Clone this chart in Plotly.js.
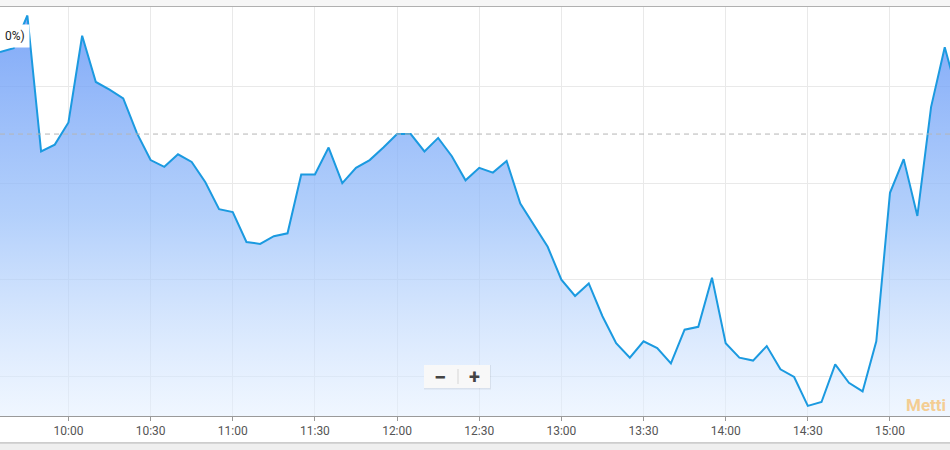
<!DOCTYPE html>
<html>
<head>
<meta charset="utf-8">
<script src="https://cdn.plot.ly/plotly-3.0.1.min.js"></script>
<style>
html,body{margin:0;padding:0;background:#fff;}
#chart{width:950px;height:450px;}
</style>
</head>
<body>
<div id="chart"></div>
<script>
// --- data ---
const day = '2024-03-15';
const times = [
  '09:35','09:40','09:45','09:50','09:55',
  '10:00','10:05','10:10','10:15','10:20','10:25','10:30','10:35','10:40','10:45','10:50','10:55',
  '11:00','11:05','11:10','11:15','11:20','11:25','11:30','11:35','11:40','11:45','11:50','11:55',
  '12:00','12:05','12:10','12:15','12:20','12:25','12:30','12:35','12:40','12:45','12:50','12:55',
  '13:00','13:05','13:10','13:15','13:20','13:25','13:30','13:35','13:40','13:45','13:50','13:55',
  '14:00','14:05','14:10','14:15','14:20','14:25','14:30','14:35','14:40','14:45','14:50','14:55',
  '15:00','15:05','15:10','15:15','15:20','15:25'
];
const prices = [
  12.736,12.740,12.774,12.633,12.640,
  12.663,12.753,12.705,12.697,12.688,12.652,12.624,12.617,12.630,12.622,12.601,12.573,
  12.570,12.539,12.537,12.545,12.548,12.609,12.609,12.637,12.600,12.616,12.624,12.637,
  12.651,12.651,12.633,12.647,12.628,12.603,12.616,12.611,12.623,12.579,12.556,12.534,
  12.500,12.483,12.496,12.462,12.434,12.419,12.436,12.429,12.413,12.448,12.451,12.502,
  12.434,12.419,12.416,12.431,12.407,12.399,12.369,12.373,12.412,12.393,12.384,12.436,
  12.590,12.625,12.566,12.679,12.741,12.689
];
const prevClose = 12.651;
const refLabel = '0%)';
const watermark = 'Metti';

const xs = times.map(t => day + ' ' + t + ':00');
const yMin = 12.3585, yMax = 12.7828;
const dataMax = Math.max.apply(null, prices);

const trace = {
  x: xs, y: prices,
  type: 'scatter', mode: 'lines',
  line: {color: '#1b9ae0', width: 2},
  fill: 'tozeroy',
  fillgradient: {
    type: 'vertical',
    start: yMin, stop: dataMax,
    colorscale: [[0, 'rgba(228,240,255,0.55)'], [0.5, 'rgba(150,190,250,0.72)'], [1, 'rgba(100,150,246,0.82)']]
  },
  hoverinfo: 'skip'
};

// pixel helpers for decorations (paper coords)
const px = v => v / 950;
const py = v => (416 - v) / 409;

const layout = {
  width: 950, height: 450,
  margin: {l: 0, r: 0, t: 7, b: 34},
  paper_bgcolor: '#ffffff', plot_bgcolor: '#ffffff',
  showlegend: false,
  font: {family: 'Roboto, "Open Sans", sans-serif', color: '#555'},
  xaxis: {
    type: 'date',
    range: [day + ' 09:35:00', day + ' 15:21:55'],
    tick0: day + ' 10:00:00', dtick: 1800000,
    tickformat: '%H:%M',
    ticks: 'outside', ticklen: 4, tickcolor: '#999', tickwidth: 1,
    tickfont: {size: 12, color: '#555', family: 'Roboto, sans-serif'},
    showgrid: true, gridcolor: '#e9e9e9', gridwidth: 1,
    showline: true, linecolor: '#9a9a9a', linewidth: 1,
    zeroline: false, fixedrange: true
  },
  yaxis: {
    range: [yMin, yMax],
    tick0: 12.4, dtick: 0.1,
    showticklabels: false, ticks: '',
    showgrid: true, gridcolor: '#e9e9e9', gridwidth: 1,
    zeroline: false, showline: false, fixedrange: true
  },
  shapes: [
    // previous close reference line
    {type: 'line', xref: 'paper', x0: 0, x1: 1, yref: 'y', y0: prevClose, y1: prevClose,
     line: {color: '#b5b5b5', width: 1, dash: '5px,4px'}, layer: 'above'},
    // top frame with shadow
    {type: 'rect', xref: 'paper', yref: 'paper', x0: 0, x1: 1, y0: py(6.5), y1: py(0),
     fillcolor: '#f6f6f6', line: {width: 0}, layer: 'above'},
    {type: 'line', xref: 'paper', yref: 'paper', x0: 0, x1: 1, y0: py(6.5), y1: py(6.5),
     line: {color: '#b0b0b0', width: 1.2}},
    // bottom frame with shadow
    {type: 'line', xref: 'paper', yref: 'paper', x0: 0, x1: 1, y0: py(443), y1: py(443),
     line: {color: '#9c9c9c', width: 1.2}},
    {type: 'rect', xref: 'paper', yref: 'paper', x0: 0, x1: 1, y0: py(450), y1: py(443.7),
     fillcolor: '#efefef', line: {width: 0}},
    // zoom buttons box (shadow + box)
    {type: 'rect', xref: 'paper', yref: 'paper', x0: px(424), x1: px(491), y0: py(389.5), y1: py(365),
     fillcolor: 'rgba(0,0,0,0.07)', line: {width: 0}, layer: 'above'},
    {type: 'rect', xref: 'paper', yref: 'paper', x0: px(424), x1: px(490), y0: py(388), y1: py(365),
     fillcolor: '#f8f8f8', line: {width: 0}, layer: 'above'},
    {type: 'line', xref: 'paper', yref: 'paper', x0: px(458), x1: px(458), y0: py(384), y1: py(369),
     line: {color: '#d6d6d6', width: 1}, layer: 'above'}
  ],
  annotations: [
    {xref: 'paper', yref: 'paper', x: 0, y: py(36), xanchor: 'left', yanchor: 'middle',
     text: refLabel, showarrow: false, bgcolor: '#ffffff', borderpad: 4,
     font: {size: 12, color: '#222', family: 'Roboto, sans-serif'}},
    {xref: 'paper', yref: 'paper', x: px(440), y: py(377), xanchor: 'center', yanchor: 'middle',
     text: '<b>−</b>', showarrow: false, font: {size: 22, color: '#444', family: 'Roboto, sans-serif'}},
    {xref: 'paper', yref: 'paper', x: px(474), y: py(377), xanchor: 'center', yanchor: 'middle',
     text: '<b>+</b>', showarrow: false, font: {size: 20, color: '#444', family: 'Roboto, sans-serif'}},
    {xref: 'paper', yref: 'paper', x: px(904), y: py(405), xanchor: 'left', yanchor: 'middle',
     text: '<b>' + watermark + '</b>', showarrow: false,
     font: {size: 17, color: '#f4cd93', family: 'Roboto, sans-serif'}}
  ]
};

Plotly.newPlot('chart', [trace], layout, {displayModeBar: false, staticPlot: true});
</script>
</body>
</html>
